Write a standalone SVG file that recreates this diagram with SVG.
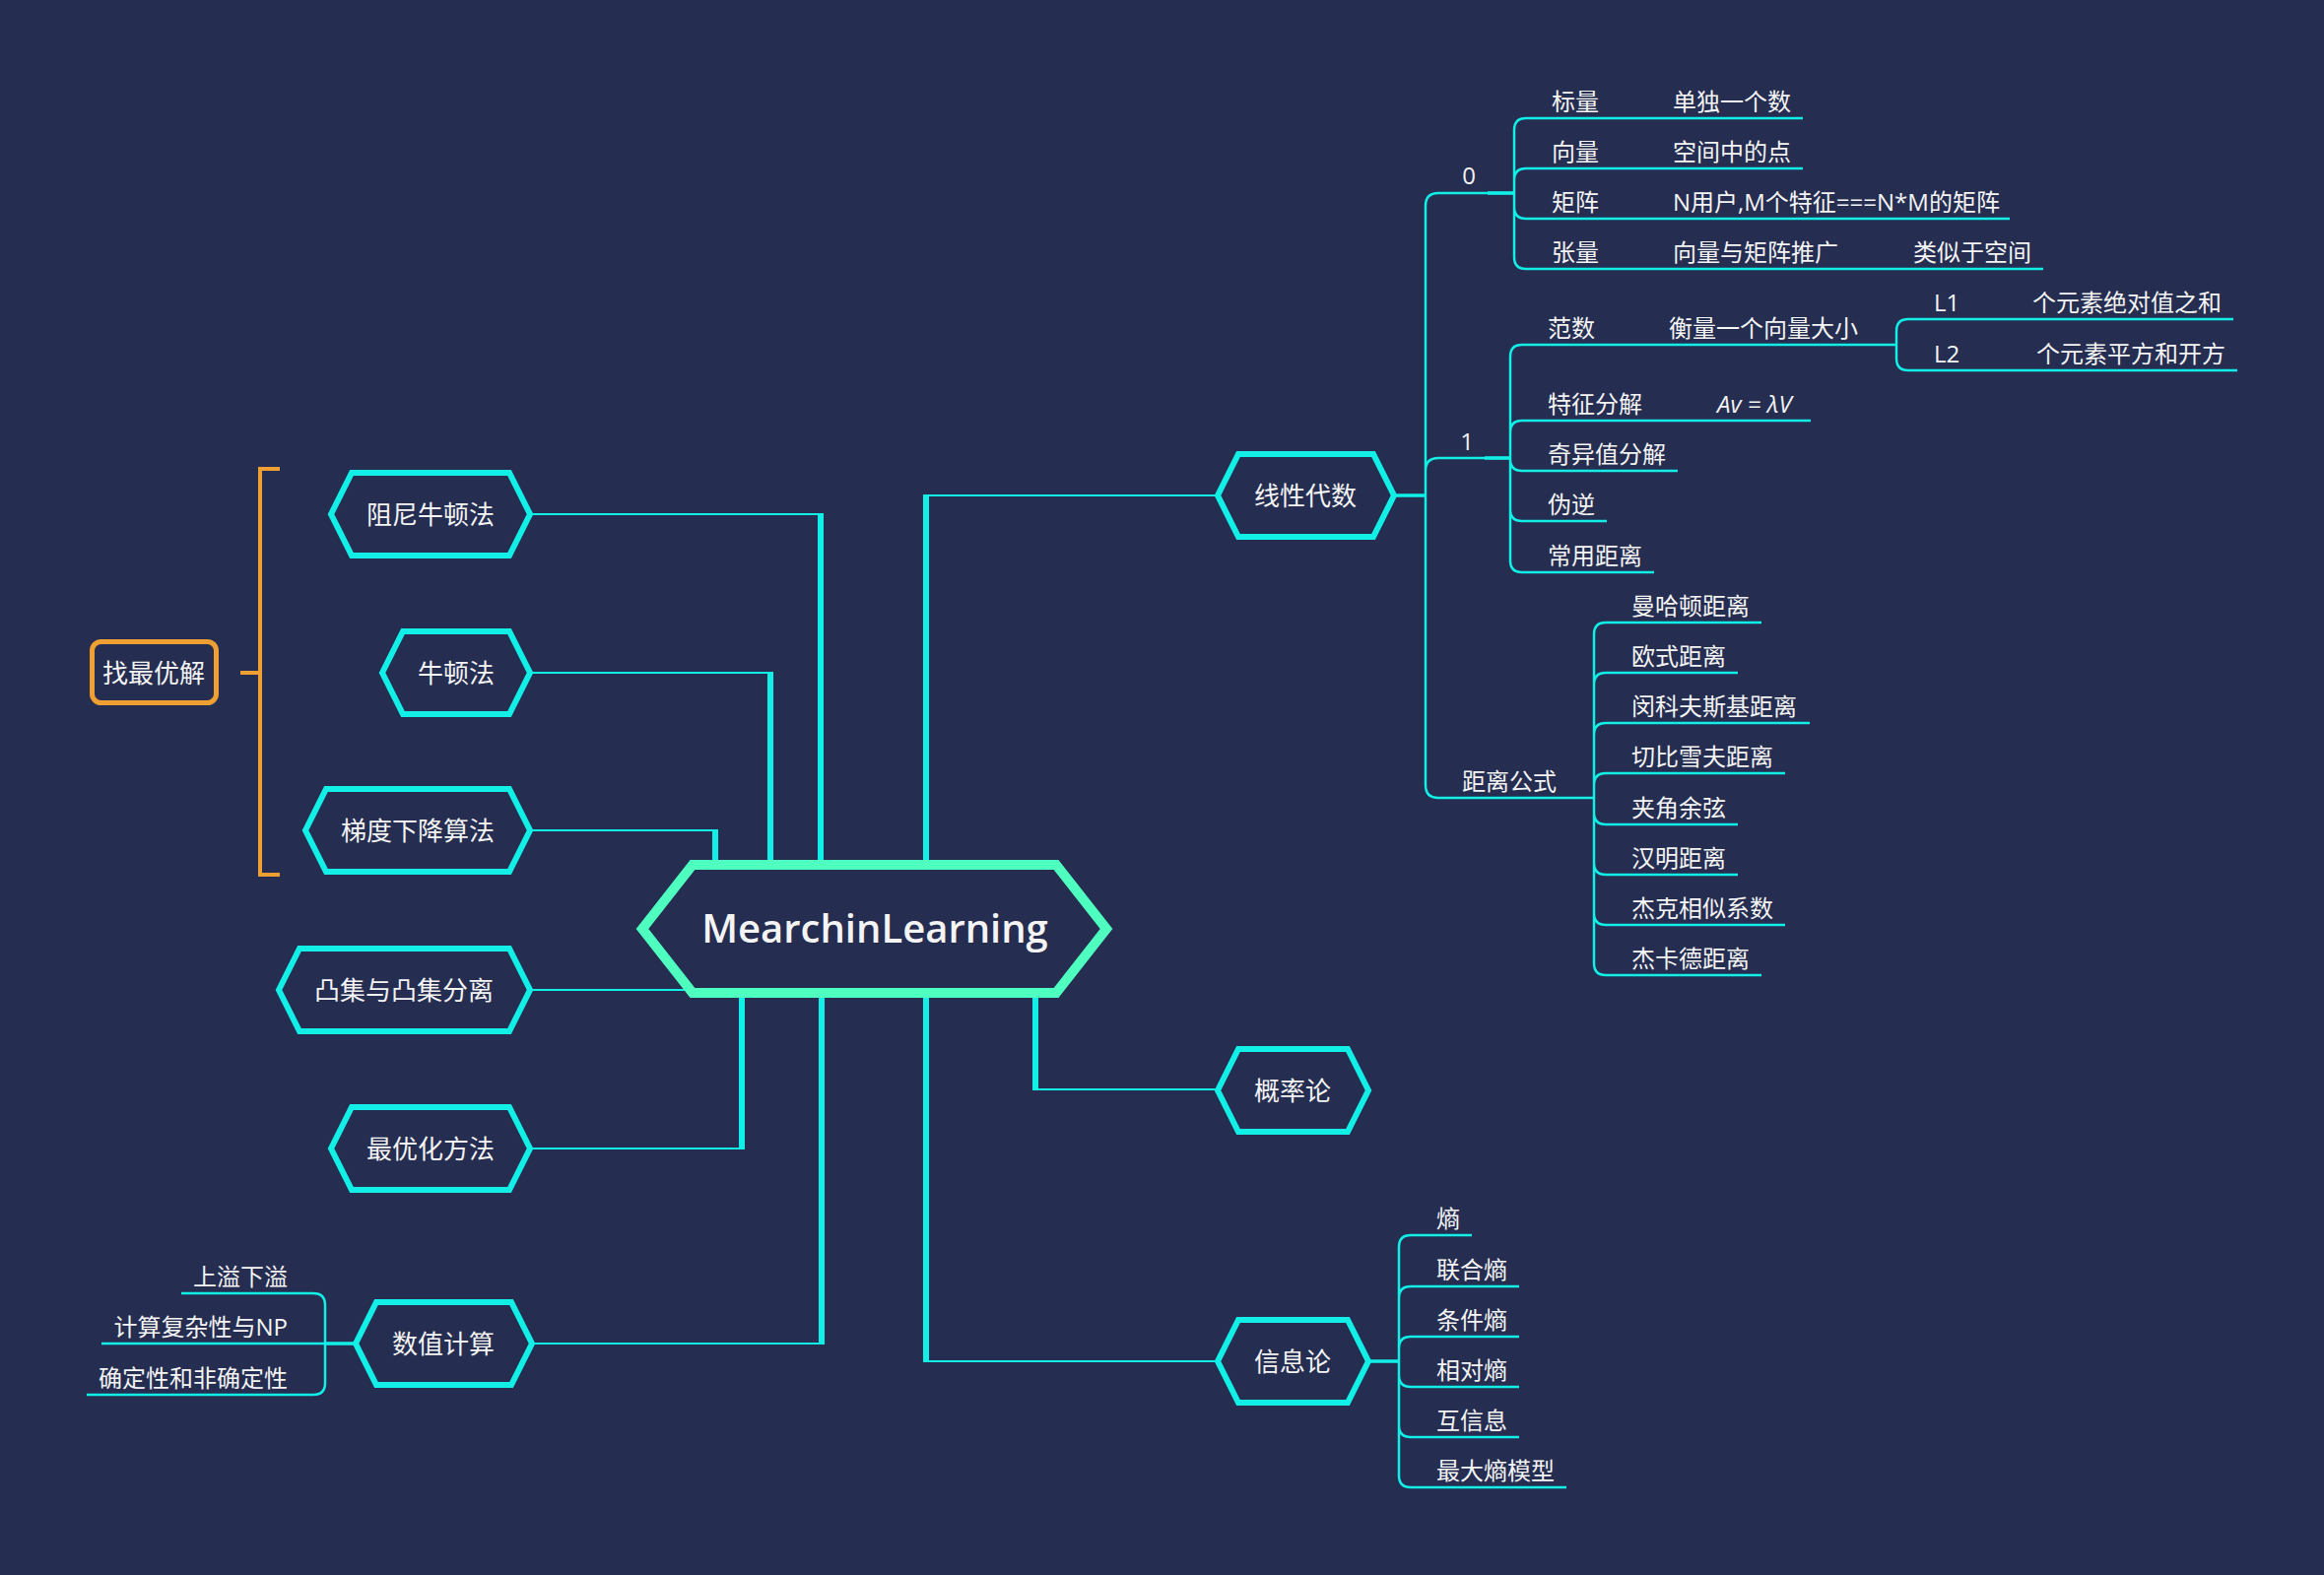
<svg xmlns="http://www.w3.org/2000/svg" width="2359" height="1599" viewBox="0 0 2359 1599">
<style>
.hex{fill:#252d51;stroke:#12efe7;stroke-width:6;stroke-linejoin:miter}
.ctr{fill:#252d51;stroke:#4effbf;stroke-width:10;stroke-linejoin:miter}
text{fill:#f4f4f4;font-family:"Open Sans","Noto Sans CJK SC",sans-serif}
.m{font-size:26px;text-anchor:middle}
.s{font-size:24px}
.e{text-anchor:end}
.c{fill:none;stroke:#12efe7;stroke-linecap:butt}
.v{stroke-width:6}
.h{stroke-width:2}
.b{stroke-width:2.5}
.k{stroke-width:3.5}
.o{fill:none;stroke:#f0a032;stroke-width:4}
</style>
<rect width="2359" height="1599" fill="#252d51"/>
<g id="connectors">
<path class="c v" d="M833,521V878M782,682V878M726,842V878M753,1008V1167M834,1008V1365M940,878V502M940,1008V1383M1051,1008V1107"/>
<path class="c h" d="M538,522H836M538,683H785M538,843H729M538,1005H697M538,1166H756M540,1364H837M937,503H1236M937,1382H1236M1048,1106H1236"/>
<path class="c k" d="M1415,503H1447M1510,196H1537M1507,465H1533M1389,1382H1420M361,1364H330"/>
<path class="c b" d="M1447,503V209Q1447,196 1460,196H1537M1447,503V478Q1447,465 1460,465H1533M1447,503V797Q1447,810 1460,810H1618"/>
<path class="c b" d="M1537,196V132Q1537,120 1549,120H1830M1537,196V183Q1537,171 1549,171H1830M1537,196V210Q1537,222 1549,222H2040M1537,196V261Q1537,273 1549,273H2074"/>
<path class="c b" d="M1533,465V362Q1533,350 1545,350H1925M1533,465V439Q1533,427 1545,427H1838M1533,465V466Q1533,478 1545,478H1703M1533,465V517Q1533,529 1545,529H1631M1533,465V569Q1533,581 1545,581H1679"/>
<path class="c b" d="M1925,350V336Q1925,324 1937,324H2267M1925,350V364Q1925,376 1937,376H2271"/>
<path class="c b" d="M1618,810V644Q1618,632 1630,632H1788M1618,810V695Q1618,683 1630,683H1764M1618,810V746Q1618,734 1630,734H1837M1618,810V797Q1618,785 1630,785H1812M1618,810V825Q1618,837 1630,837H1764M1618,810V876Q1618,888 1630,888H1764M1618,810V927Q1618,939 1630,939H1812M1618,810V978Q1618,990 1630,990H1788"/>
<path class="c b" d="M1420,1382V1266Q1420,1254 1432,1254H1494M1420,1382V1318Q1420,1306 1432,1306H1542M1420,1382V1369Q1420,1357 1432,1357H1542M1420,1382V1396Q1420,1408 1432,1408H1542M1420,1382V1447Q1420,1459 1432,1459H1542M1420,1382V1498Q1420,1510 1432,1510H1590"/>
<path class="c b" d="M330,1364V1325Q330,1313 318,1313H184M330,1364H103M330,1364V1404Q330,1416 318,1416H88"/>
<path class="o" d="M284,476H264V888H284M244,683H264"/>
</g>
<g id="center">
<polygon class="ctr" points="652,943 703,878 1072,878 1123,943 1072,1008 703,1008"/>
<text x="888" y="957" font-size="40" font-weight="600" text-anchor="middle">MearchinLearning</text>
</g>
<g id="n-zuini"><polygon class="hex" points="336,522 357,480 517,480 538,522 517,564 357,564"/><text class="m" x="437" y="532">阻尼牛顿法</text></g>
<g id="n-niudun"><polygon class="hex" points="388,683 409,641 517,641 538,683 517,725 409,725"/><text class="m" x="463" y="693">牛顿法</text></g>
<g id="n-tidu"><polygon class="hex" points="310,843 331,801 517,801 538,843 517,885 331,885"/><text class="m" x="424" y="853">梯度下降算法</text></g>
<g id="n-tuji"><polygon class="hex" points="283,1005 304,963 517,963 538,1005 517,1047 304,1047"/><text class="m" x="410" y="1015">凸集与凸集分离</text></g>
<g id="n-youhua"><polygon class="hex" points="336,1166 357,1124 517,1124 538,1166 517,1208 357,1208"/><text class="m" x="437" y="1176">最优化方法</text></g>
<g id="n-shuzhi"><polygon class="hex" points="361,1364 382,1322 519,1322 540,1364 519,1406 382,1406"/><text class="m" x="450" y="1374">数值计算</text></g>
<g id="n-xianxing"><polygon class="hex" points="1236,503 1257,461 1394,461 1415,503 1394,545 1257,545"/><text class="m" x="1325" y="513">线性代数</text></g>
<g id="n-gailv"><polygon class="hex" points="1236,1107 1257,1065 1368,1065 1389,1107 1368,1149 1257,1149"/><text class="m" x="1312" y="1117">概率论</text></g>
<g id="n-xinxi"><polygon class="hex" points="1236,1382 1257,1340 1368,1340 1389,1382 1368,1424 1257,1424"/><text class="m" x="1312" y="1392">信息论</text></g>
<g id="n-zuiyou"><rect x="93.5" y="651.5" width="126" height="62" rx="9" fill="#252d51" stroke="#f0a032" stroke-width="5"/><text class="m" x="156" y="693">找最优解</text></g>
<g id="la-sub">
<text class="s" x="1491" y="187" text-anchor="middle">0</text>
<text class="s" x="1489" y="457" text-anchor="middle">1</text>
<text class="s" x="1484" y="802">距离公式</text>
<text class="s" x="1575" y="112">标量</text><text class="s" x="1698" y="112">单独一个数</text>
<text class="s" x="1575" y="163">向量</text><text class="s" x="1698" y="163">空间中的点</text>
<text class="s" x="1575" y="214">矩阵</text><text class="s" x="1698" y="214">N用户,M个特征===N*M的矩阵</text>
<text class="s" x="1575" y="265">张量</text><text class="s" x="1698" y="265">向量与矩阵推广</text><text class="s" x="1942" y="265">类似于空间</text>
<text class="s" x="1571" y="342">范数</text><text class="s" x="1694" y="342">衡量一个向量大小</text>
<text class="s" x="1963" y="316">L1</text><text class="s" x="2063" y="316">个元素绝对值之和</text>
<text class="s" x="1963" y="368">L2</text><text class="s" x="2067" y="368">个元素平方和开方</text>
<text class="s" x="1571" y="419">特征分解</text><text class="s" x="1743" y="419" font-style="italic" font-family="Noto Sans, sans-serif">Av = λV</text>
<text class="s" x="1571" y="470">奇异值分解</text>
<text class="s" x="1571" y="521">伪逆</text>
<text class="s" x="1571" y="573">常用距离</text>
<text class="s" x="1656" y="624">曼哈顿距离</text>
<text class="s" x="1656" y="675">欧式距离</text>
<text class="s" x="1656" y="726">闵科夫斯基距离</text>
<text class="s" x="1656" y="777">切比雪夫距离</text>
<text class="s" x="1656" y="829">夹角余弦</text>
<text class="s" x="1656" y="880">汉明距离</text>
<text class="s" x="1656" y="931">杰克相似系数</text>
<text class="s" x="1656" y="982">杰卡德距离</text>
</g>
<g id="info-sub">
<text class="s" x="1458" y="1246">熵</text>
<text class="s" x="1458" y="1298">联合熵</text>
<text class="s" x="1458" y="1349">条件熵</text>
<text class="s" x="1458" y="1400">相对熵</text>
<text class="s" x="1458" y="1451">互信息</text>
<text class="s" x="1458" y="1502">最大熵模型</text>
</g>
<g id="num-sub">
<text class="s e" x="292" y="1305">上溢下溢</text>
<text class="s e" x="292" y="1356">计算复杂性与NP</text>
<text class="s e" x="292" y="1408">确定性和非确定性</text>
</g>
</svg>
